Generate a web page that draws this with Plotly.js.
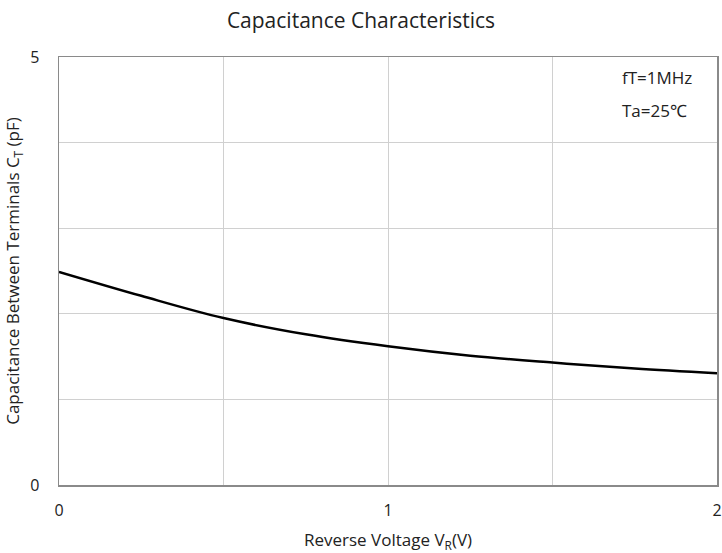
<!DOCTYPE html>
<html><head><meta charset="utf-8">
<script src="https://cdn.plot.ly/plotly-3.0.1.min.js"></script>
<style>body{margin:0;background:#fff}#c{width:722px;height:553px}</style>
</head><body><div id="c"></div>
<script>
const voltage = [0, 0.25, 0.5, 0.75, 1, 1.25, 1.5, 1.75, 2];
const capacitance = [2.49, 2.21, 1.95, 1.76, 1.62, 1.51, 1.43, 1.36, 1.305];
const xTickVals = [0, 0.5, 1, 1.5, 2];
const xTickText = ['0', '', '1', '', '2'];
const yTickVals = [0, 1, 2, 3, 4, 5];
const yTickText = ['0', '', '', '', '', '5'];
const notes = ['fT=1MHz', 'Ta=25℃'];

const font = 'Open Sans, Noto Sans, sans-serif';
Plotly.newPlot('c', [{
  x: voltage, y: capacitance, type: 'scatter', mode: 'lines',
  line: {color: '#000', width: 2.5, shape: 'spline'}, hoverinfo: 'skip'
}], {
  width: 722, height: 553,
  margin: {l: 59, r: 5, t: 57, b: 68},
  paper_bgcolor: '#fff', plot_bgcolor: '#fff',
  showlegend: false,
  title: {text: 'Capacitance Characteristics', x: 0.5, xref: 'container', y: 0.963, yanchor: 'middle',
          font: {family: font, size: 21, color: '#222'}},
  xaxis: {range: [0, 2], tickvals: xTickVals, ticktext: xTickText, ticks: '',
          showgrid: true, gridcolor: '#d0d0d0', gridwidth: 1,
          showline: true, mirror: true, linecolor: '#8a8a8a', linewidth: 1.5, zeroline: false,
          tickfont: {family: font, size: 16, color: '#222'}, ticklabelstandoff: 10,
          title: {text: 'Reverse Voltage V<sub>R</sub>(V)', font: {family: font, size: 17, color: '#222'}, standoff: 15}},
  yaxis: {range: [0, 5], tickvals: yTickVals, ticktext: yTickText, ticks: '',
          showgrid: true, gridcolor: '#d0d0d0', gridwidth: 1,
          showline: true, mirror: true, linecolor: '#8a8a8a', linewidth: 1.5, zeroline: false,
          tickfont: {family: font, size: 16, color: '#222'}, ticklabelstandoff: 15,
          title: {text: 'Capacitance Between Terminals C<sub>T</sub> (pF)', font: {family: font, size: 17, color: '#222'}, standoff: 6}},
  annotations: [
    {text: notes[0], xref: 'paper', yref: 'paper', x: 0.853, y: 0.951, xanchor: 'left', yanchor: 'middle', showarrow: false,
     font: {family: font, size: 17, color: '#222'}},
    {text: notes[1], xref: 'paper', yref: 'paper', x: 0.853, y: 0.876, xanchor: 'left', yanchor: 'middle', showarrow: false,
     font: {family: font, size: 17, color: '#222'}}
  ]
}, {staticPlot: true});
</script></body></html>
